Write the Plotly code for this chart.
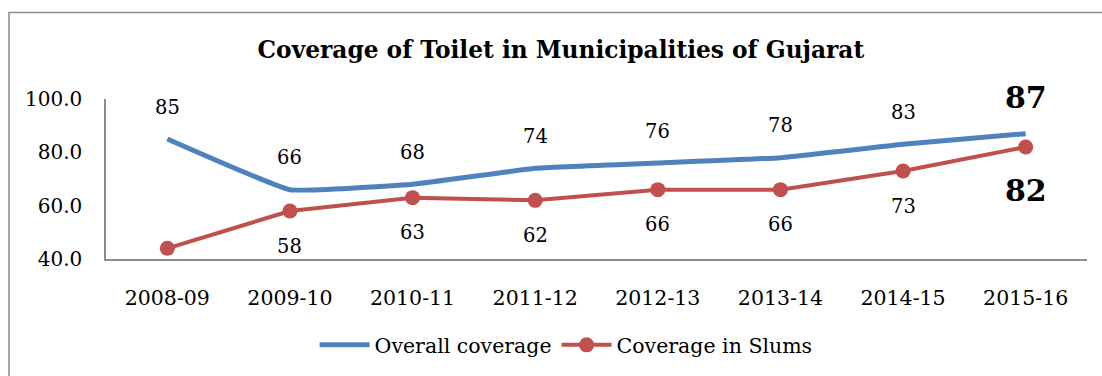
import plotly.graph_objects as go

years = ["2008-09", "2009-10", "2010-11", "2011-12", "2012-13", "2013-14", "2014-15", "2015-16"]
overall = [85, 66, 68, 74, 76, 78, 83, 87]
slums = [44, 58, 63, 62, 66, 66, 73, 82]
overall_labels = ["85", "66", "68", "74", "76", "78", "83", "87"]
slums_labels = ["", "58", "63", "62", "66", "66", "73", "82"]

BLUE = "#4F81BD"
RED = "#C0504D"
FONT = "DejaVu Serif"

fig = go.Figure()
fig.add_trace(go.Scatter(
    x=years, y=overall, name="Overall coverage", mode="lines",
    line=dict(color=BLUE, width=5, shape="spline", smoothing=0.3),
))
fig.add_trace(go.Scatter(
    x=years, y=slums, name="Coverage in Slums", mode="lines+markers",
    line=dict(color=RED, width=4),
    marker=dict(color=RED, size=15),
))

annotations = []
n = len(years)
for i, (yr, v, t) in enumerate(zip(years, overall, overall_labels)):
    last = i == n - 1
    annotations.append(dict(
        x=yr, y=v, text=f"<b>{t}</b>" if last else t, showarrow=False,
        yshift=36 if last else 32,
        font=dict(family=FONT, size=30 if last else 19.5, color="black"),
    ))
for i, (yr, v, t) in enumerate(zip(years, slums, slums_labels)):
    if not t:
        continue
    last = i == n - 1
    annotations.append(dict(
        x=yr, y=v, text=f"<b>{t}</b>" if last else t, showarrow=False,
        yshift=-43 if last else -35,
        font=dict(family=FONT, size=30 if last else 19.5, color="black"),
    ))

fig.update_layout(
    width=1102, height=376,
    margin=dict(l=106, r=15, t=99, b=116),
    paper_bgcolor="white", plot_bgcolor="white",
    font=dict(family=FONT, size=20, color="black"),
    title=dict(text="<b>Coverage of Toilet in Municipalities of Gujarat</b>",
               x=0.509, xanchor="center", y=0.867, yanchor="middle",
               font=dict(family=FONT, size=23.3, color="black")),
    showlegend=True,
    legend=dict(orientation="h", x=0.469, xanchor="center", y=-0.528, yanchor="middle",
                font=dict(family=FONT, size=20.5), bgcolor="rgba(0,0,0,0)",
                itemwidth=50, traceorder="normal"),
    annotations=annotations,
    shapes=[dict(type="rect", xref="paper", yref="paper",
                 x0=-0.0989, x1=1.02, y0=-0.75, y1=1.54,
                 line=dict(color="#8c8c8c", width=1.5), layer="below")],
)
fig.update_xaxes(
    type="category", showgrid=False, showline=True, linecolor="#8c8c8c", linewidth=1.5,
    ticks="", ticklabelstandoff=20, range=[-0.5, 7.5],
    tickfont=dict(family=FONT, size=20.5),
)
fig.update_yaxes(
    range=[40, 100], tickvals=[40, 60, 80, 100], tickformat=".1f",
    showgrid=False, showline=True, linecolor="#8c8c8c", linewidth=1.5,
    ticks="", ticklabelstandoff=18, zeroline=False,
    tickfont=dict(family=FONT, size=20),
)

fig.write_html("out.html")
